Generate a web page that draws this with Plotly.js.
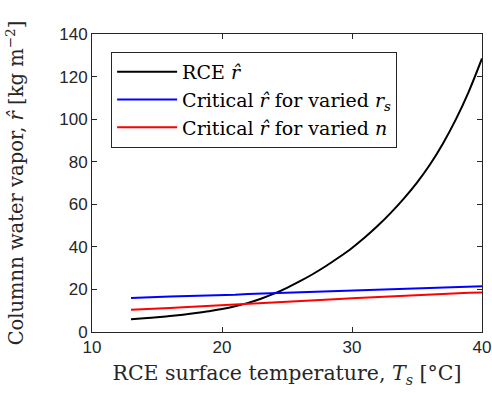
<!DOCTYPE html>
<html>
<head>
<meta charset="utf-8">
<script src="https://cdn.plot.ly/plotly-3.0.1.min.js"></script>
<style>
  html, body { margin: 0; padding: 0; background: #fff; }
  #chart { width: 492px; height: 393px; }
</style>
</head>
<body>
<div id="chart"></div>
<script>
// Surface temperature of the RCE runs [°C]
const surfaceTemp = [13, 14, 15, 16, 17, 18, 19, 20, 21, 22, 23, 24, 25, 26,
                     27, 28, 29, 30, 31, 32, 33, 34, 35, 36, 37, 38, 39, 40];

// Column water vapor in RCE [kg m^-2]
const rceVapor = [6.0, 6.45, 6.95, 7.5, 8.15, 8.9, 9.75, 10.8, 12.1, 13.7, 15.65, 18.0, 20.75, 23.85,
                  27.25, 31.0, 35.1, 39.5, 44.5, 50.0, 56.1, 62.8, 70.2, 78.7, 88.6, 100.0, 113.2, 128.5];

// Critical column water vapor when r_s is varied
const criticalRs = [16.0, 16.1, 16.5, 16.7, 16.8, 17.0, 17.2, 17.4, 17.5, 17.8, 18.0, 18.2, 18.4, 18.6,
                    18.8, 19.1, 19.3, 19.6, 19.8, 20.0, 20.3, 20.5, 20.7, 20.9, 21.1, 21.3, 21.4, 21.5];

// Critical column water vapor when n is varied
const criticalN = [10.4, 10.6, 11.1, 11.3, 11.6, 11.9, 12.2, 12.5, 12.8, 13.1, 13.4, 13.7, 14.1, 14.4,
                   14.8, 15.1, 15.5, 15.9, 16.2, 16.5, 16.9, 17.2, 17.5, 17.8, 18.0, 18.2, 18.4, 18.6];

const seriesNames = [
  'RCE <i>r̂</i>',
  'Critical <i>r̂</i> for varied <i>r<sub>s</sub></i>',
  'Critical <i>r̂</i> for varied <i>n</i>'
];

const xTicks = [10, 20, 30, 40];
const yTicks = [0, 20, 40, 60, 80, 100, 120, 140];

const axisColor = '#262626';
const serif = 'DejaVu Serif';
const sans = 'Liberation Sans';

const traces = [
  { x: surfaceTemp, y: rceVapor, name: seriesNames[0], mode: 'lines',
    line: { color: '#000000', width: 2, shape: 'spline', smoothing: 1 } },
  { x: surfaceTemp, y: criticalRs, name: seriesNames[1], mode: 'lines',
    line: { color: '#0000ff', width: 2 } },
  { x: surfaceTemp, y: criticalN, name: seriesNames[2], mode: 'lines',
    line: { color: '#ff0000', width: 2 } }
];

const axisCommon = {
  showgrid: false,
  zeroline: false,
  showline: true,
  linecolor: axisColor,
  linewidth: 1,
  mirror: 'ticks',
  ticks: 'inside',
  ticklen: 5,
  tickwidth: 1,
  tickcolor: axisColor,
  tickfont: { family: sans, size: 17, color: axisColor }
};

const layout = {
  width: 492,
  height: 393,
  margin: { l: 92, r: 10, t: 34, b: 61 },
  font: { family: serif, size: 19, color: '#000000' },
  paper_bgcolor: '#ffffff',
  plot_bgcolor: '#ffffff',
  showlegend: true,
  legend: {
    x: 0.049, y: 0.94, xanchor: 'left', yanchor: 'top',
    bgcolor: '#ffffff',
    bordercolor: axisColor,
    borderwidth: 1,
    itemwidth: 60,
    font: { family: serif, size: 19, color: '#000000' },
    tracegroupgap: 0
  },
  xaxis: Object.assign({}, axisCommon, {
    range: [10, 40],
    tickvals: xTicks,
    title: { text: 'RCE surface temperature, <i>T<sub>s</sub></i> [°C]',
             font: { family: serif, size: 20.5, color: axisColor }, standoff: 9 }
  }),
  yaxis: Object.assign({}, axisCommon, {
    range: [0, 140],
    tickvals: yTicks,
    title: { text: 'Columnn water vapor, <i>r̂</i> [kg m<sup>−2</sup>]',
             font: { family: serif, size: 19.5, color: axisColor }, standoff: 30 }
  })
};

Plotly.newPlot('chart', traces, layout, { displayModeBar: false, staticPlot: true });
</script>
</body>
</html>
